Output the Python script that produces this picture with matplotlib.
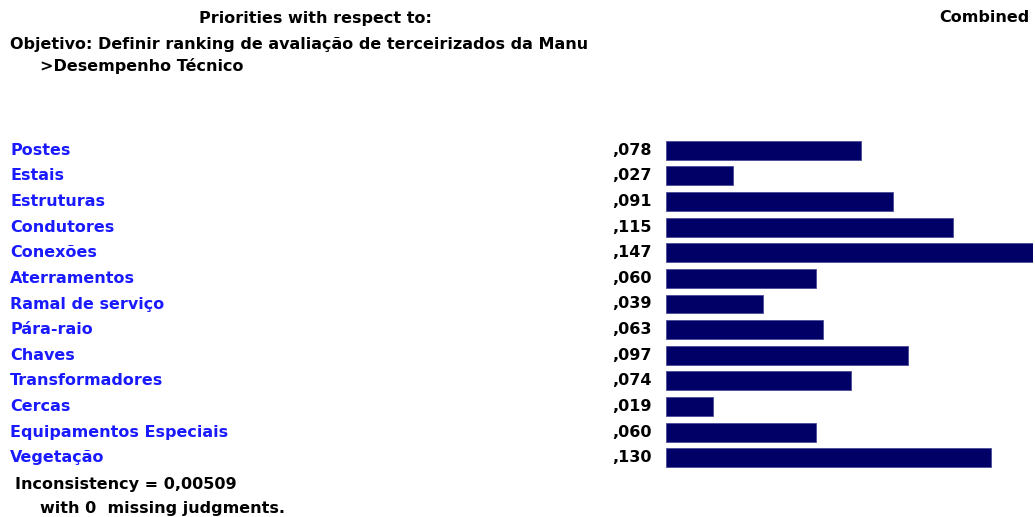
import matplotlib
matplotlib.use("Agg")
import matplotlib.pyplot as plt
from matplotlib import rcParams
from matplotlib.transforms import blended_transform_factory

rcParams['font.family'] = 'sans-serif'
rcParams['font.sans-serif'] = ['DejaVu Sans']
rcParams['font.size'] = 11.5

# --- Data ---
categories = ["Postes", "Estais", "Estruturas", "Condutores", "Conexões",
              "Aterramentos", "Ramal de serviço", "Pára-raio", "Chaves",
              "Transformadores", "Cercas", "Equipamentos Especiais", "Vegetação"]
values = [0.078, 0.027, 0.091, 0.115, 0.147, 0.060, 0.039, 0.063, 0.097,
          0.074, 0.019, 0.060, 0.130]
value_labels = [",078", ",027", ",091", ",115", ",147", ",060", ",039",
                ",063", ",097", ",074", ",019", ",060", ",130"]

W, H = 1035, 517
fig = plt.figure(figsize=(W / 100, H / 100), dpi=100)

# bar area in pixels
x0, x1 = 666, 1033
top_px, bot_px = 137.2, 470.8
ax = fig.add_axes([x0 / W, 1 - bot_px / H, (x1 - x0) / W, (bot_px - top_px) / H])
ypos = list(range(len(categories)))
ax.barh(ypos, values, height=0.74, color='#000066', edgecolor='#4a4a99', linewidth=0.6)
ax.set_xlim(0, max(values))
ax.set_ylim(len(categories) - 0.5, -0.5)
ax.axis('off')

tr = blended_transform_factory(fig.transFigure, ax.transData)
for i, (name, lab) in enumerate(zip(categories, value_labels)):
    fig.text(10 / W, i, name, transform=tr, color='#1a1aff', fontweight='bold',
             ha='left', va='center')
    fig.text(652 / W, i, lab, transform=tr, color='black', fontweight='bold',
             ha='right', va='center')

# --- Header / footer texts ---
def ftext(x, y, s, **kw):
    fig.text(x / W, 1 - y / H, s, fontweight='bold', color='black', va='center', **kw)

ftext(315, 18, "Priorities with respect to:", ha='center')
ftext(1030, 18, "Combined", ha='right')
ftext(10, 45, "Objetivo: Definir ranking de avaliação de terceirizados da Manu", ha='left')
ftext(40, 66, ">Desempenho Técnico", ha='left')
ftext(15, 484, "Inconsistency = 0,00509", ha='left')
ftext(40, 509, "with 0  missing judgments.", ha='left')

fig.savefig("out.png", dpi=100, facecolor='white')
